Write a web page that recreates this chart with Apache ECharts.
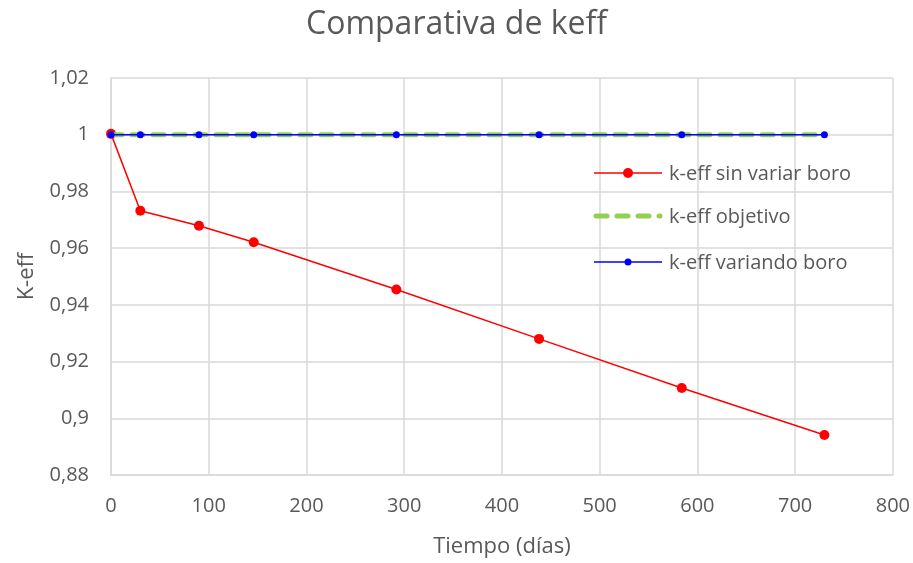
<!DOCTYPE html>
<html>
<head>
<meta charset="utf-8">
<script src="https://cdn.jsdelivr.net/npm/echarts@6/dist/echarts.min.js"></script>
<style>
  html, body { margin: 0; padding: 0; background: #fff; }
  #chart { width: 913px; height: 563px; }
</style>
</head>
<body>
<div id="chart"></div>
<script>
// Burnup time steps (days)
const tiempo = [0, 30, 90, 146, 292, 438, 584, 730];
// k-eff without changing boron concentration
const keffSinVariar = [1.0003, 0.9732, 0.9679, 0.9621, 0.9454, 0.9280, 0.9107, 0.8941];
// target k-eff
const keffObjetivo = [1, 1];
const tiempoObjetivo = [0, 730];
// k-eff adjusting boron concentration
const keffVariando = [1, 1, 1, 1, 1, 1, 1, 1];
// series names
const nombres = ['k-eff sin variar boro', 'k-eff objetivo', 'k-eff variando boro'];

const textColor = '#595959';
const gridColor = '#d9d9d9';
const font = 'Open Sans';
const rojo = '#ff0000';
const verde = '#92d050';
const azul = '#0000ff';

function pairs(xs, ys) {
  return xs.map((x, i) => [x, ys[i]]);
}

function fmt(v) {
  return String(+v.toFixed(2)).replace('.', ',');
}

// Legend drawn as graphic items: line sample + marker + label per row
function legendRow(key, y, color, width, dash, markerSize, label) {
  const items = [];
  if (dash) {
    items.push({
      id: key + '-line',
      type: 'line',
      z: 20,
      shape: { x1: 596, y1: y, x2: 660, y2: y },
      style: { stroke: color, lineWidth: width, lineDash: dash, lineCap: 'round' }
    });
  } else {
    items.push({
      id: key + '-line',
      type: 'rect',
      z: 20,
      shape: { x: 594, y: y - width / 2, width: 68, height: width },
      style: { fill: color }
    });
  }
  items.push({
    id: key + '-text',
    type: 'text',
    z: 20,
    left: 669,
    top: y - 9,
    style: { text: label, fill: textColor, font: '20px "Open Sans"', textVerticalAlign: 'middle' }
  });
  if (markerSize) {
    items.push({
      id: key + '-marker',
      type: 'circle',
      z: 21,
      shape: { cx: 628, cy: y, r: markerSize / 2 },
      style: { fill: color }
    });
  }
  return items;
}

const chart = echarts.init(document.getElementById('chart'));
chart.setOption({
  animation: false,
  textStyle: { fontFamily: font },
  title: {
    text: 'Comparativa de keff',
    left: 'center',
    top: 4,
    textStyle: { fontFamily: font, fontSize: 32, fontWeight: 'normal', color: textColor }
  },
  grid: { left: 111, right: 20, top: 78, bottom: 86 },
  xAxis: {
    type: 'value',
    min: 0,
    max: 800,
    interval: 100,
    name: 'Tiempo (días)',
    nameLocation: 'middle',
    nameGap: 61,
    nameTextStyle: { fontFamily: font, fontSize: 22, color: textColor },
    axisLine: { show: true, lineStyle: { color: gridColor, width: 1.5 } },
    axisTick: { show: false },
    axisLabel: { fontFamily: font, fontSize: 20, color: textColor, margin: 21 },
    splitLine: { show: true, lineStyle: { color: gridColor, width: 1.5 } }
  },
  yAxis: {
    type: 'value',
    min: 0.88,
    max: 1.02,
    interval: 0.02,
    name: 'K-eff',
    nameLocation: 'middle',
    nameGap: 73,
    nameTextStyle: { fontFamily: font, fontSize: 22, color: textColor },
    axisLine: { show: true, lineStyle: { color: gridColor, width: 1.5 } },
    axisTick: { show: false },
    axisLabel: { fontFamily: font, fontSize: 20, color: textColor, margin: 22, formatter: fmt },
    splitLine: { show: true, lineStyle: { color: gridColor, width: 1.5 } }
  },
  graphic: [].concat(
    legendRow('sin', 173, rojo, 1.5, null, 10, nombres[0]),
    legendRow('obj', 216, verde, 5, [11, 10], 0, nombres[1]),
    legendRow('var', 262, azul, 1.5, null, 7, nombres[2])
  ),
  series: [
    {
      name: nombres[0],
      type: 'line',
      data: pairs(tiempo, keffSinVariar),
      symbol: 'circle',
      symbolSize: 10,
      lineStyle: { color: rojo, width: 1.5 },
      itemStyle: { color: rojo },
      z: 2
    },
    {
      name: nombres[1],
      type: 'line',
      data: pairs(tiempoObjetivo, keffObjetivo),
      symbol: 'none',
      lineStyle: { color: verde, width: 5, type: [11, 10], cap: 'round' },
      itemStyle: { color: verde },
      z: 3
    },
    {
      name: nombres[2],
      type: 'line',
      data: pairs(tiempo, keffVariando),
      symbol: 'circle',
      symbolSize: 7,
      lineStyle: { color: azul, width: 1.5 },
      itemStyle: { color: azul },
      z: 4
    }
  ]
});
</script>
</body>
</html>
